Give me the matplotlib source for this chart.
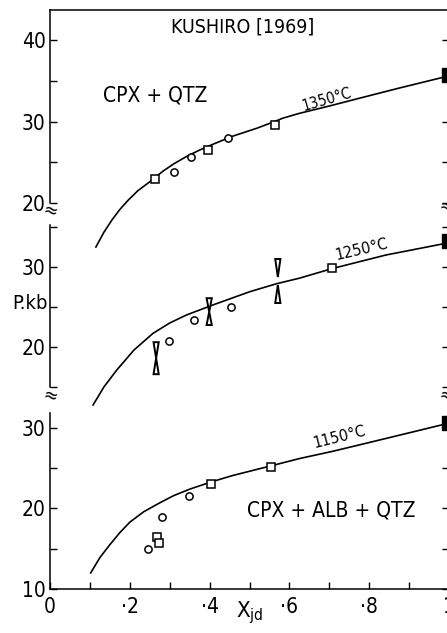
import matplotlib
matplotlib.use("Agg")
import matplotlib.pyplot as plt
from matplotlib.ticker import FixedLocator, MultipleLocator

plt.rcParams["font.family"] = ["DejaVu Sans"]
plt.rcParams["font.stretch"] = "condensed"

# ---- 1350 C panel (CPX + QTZ)
top_curve_x = [0.115, 0.135, 0.155, 0.175, 0.195, 0.22, 0.25, 0.283, 0.31, 0.342,
               0.375, 0.408, 0.458, 0.52, 0.563, 0.583, 0.625, 0.70, 0.775, 0.875, 0.975, 1.0]
top_curve_y = [14.6, 16.4, 17.9, 19.2, 20.3, 21.5, 22.6, 23.9, 24.8, 25.7,
               26.5, 27.2, 28.2, 29.2, 30.0, 30.4, 31.0, 31.9, 32.85, 34.1, 35.3, 35.6]
top_sq_x = [0.2625, 0.396, 0.563]
top_sq_y = [22.9, 26.5, 29.6]
top_ci_x = [0.311, 0.354, 0.446]
top_ci_y = [23.8, 25.6, 28.0]
top_end_y = 35.7

# ---- 1250 C panel
mid_curve_x = [0.108, 0.135, 0.167, 0.21, 0.258, 0.30, 0.342, 0.408, 0.5, 0.567,
               0.625, 0.707, 0.842, 0.992, 1.0]
mid_curve_y = [12.75, 15.0, 17.1, 19.6, 21.7, 23.0, 24.0, 25.25, 26.9, 27.9,
               28.6, 29.8, 31.5, 32.96, 33.1]
mid_sq_x = [0.707]
mid_sq_y = [29.85]
mid_ci_x = [0.298, 0.361, 0.454]
mid_ci_y = [20.8, 23.4, 25.0]
mid_end_y = 33.2
# pressure brackets (hourglass symbols)
br_x = [0.266, 0.399, 0.571]
br_top = [20.6, 26.1, 31.0]
br_top_tip = [18.6, 24.4, 28.75]
br_bot_tip = [18.6, 24.4, 27.75]
br_bot = [16.6, 22.75, 25.5]

# ---- 1150 C panel (CPX + ALB + QTZ)
bot_curve_x = [0.102, 0.125, 0.15, 0.175, 0.2, 0.235, 0.275, 0.31, 0.35, 0.404,
               0.458, 0.554, 0.625, 0.708, 0.792, 0.9, 0.983, 1.0]
bot_curve_y = [12.0, 13.9, 15.5, 17.0, 18.3, 19.6, 20.7, 21.6, 22.4, 23.3,
               24.1, 25.3, 26.2, 27.1, 28.1, 29.4, 30.4, 30.6]
bot_sq_x = [0.404, 0.554, 0.268, 0.272]
bot_sq_y = [23.0, 25.2, 16.4, 15.75]
bot_ci_x = [0.246, 0.281, 0.348]
bot_ci_y = [15.0, 18.9, 21.55]
bot_end_y = 30.65

x_ticks = [0, 0.2, 0.4, 0.6, 0.8, 1.0]
x_tick_labels = ["0", "·2", "·4", "·6", "·8", "1"]

W, H = 447, 633
fig = plt.figure(figsize=(W / 100, H / 100), dpi=100)


def px_axes(left, right, top, bottom):
    return fig.add_axes([left / W, 1 - bottom / H, (right - left) / W, (bottom - top) / H])


ax_top = px_axes(50, 449, 9.85, 203)
ax_mid = px_axes(50, 449, 225, 387)
ax_bot = px_axes(50, 449, 412.7, 589)

ax_top.set_ylim(20, 43.7)
ax_mid.set_ylim(15, 35.25)
ax_bot.set_ylim(10, 31.9)

for ax in (ax_top, ax_mid, ax_bot):
    ax.set_xlim(0, 1)
    ax.patch.set_alpha(0)
    for s in ax.spines.values():
        s.set_linewidth(1.1)
    ax.tick_params(axis="both", which="both", direction="in", length=5, width=1,
                   labelsize=15, pad=3, right=True)
    ax.yaxis.set_minor_locator(MultipleLocator(5))

ax_top.spines["bottom"].set_visible(False)
ax_mid.spines["bottom"].set_visible(False)
ax_mid.spines["top"].set_visible(False)
ax_bot.spines["top"].set_visible(False)
ax_top.set_xticks([])
ax_mid.set_xticks([])

ax_top.yaxis.set_major_locator(FixedLocator([20, 30, 40]))
ax_mid.yaxis.set_major_locator(FixedLocator([20, 30]))
ax_bot.yaxis.set_major_locator(FixedLocator([10, 20, 30]))

ax_bot.set_xticks(x_ticks)
ax_bot.set_xticklabels(x_tick_labels)
ax_bot.xaxis.set_minor_locator(MultipleLocator(0.1))
ax_bot.tick_params(axis="x", pad=6)

line_kw = dict(color="black", lw=1.2, clip_on=False, zorder=2)
sq_kw = dict(ls="none", marker="s", ms=5.2, mfc="white", mec="black", mew=1.1, clip_on=False, zorder=3)
ci_kw = dict(ls="none", marker="o", ms=5.2, mfc="white", mec="black", mew=1.1, clip_on=False, zorder=3)
end_kw = dict(ls="none", marker="s", ms=9.5, color="black", clip_on=False, zorder=3)

ax_top.plot(top_curve_x, top_curve_y, **line_kw)
ax_top.plot(top_sq_x, top_sq_y, **sq_kw)
ax_top.plot(top_ci_x, top_ci_y, **ci_kw)
ax_top.plot([1.0], [top_end_y], **end_kw)

ax_mid.plot(mid_curve_x, mid_curve_y, **line_kw)
ax_mid.plot(mid_sq_x, mid_sq_y, **sq_kw)
ax_mid.plot(mid_ci_x, mid_ci_y, **ci_kw)
ax_mid.plot([1.0], [mid_end_y], **end_kw)
hw = 0.0065
for x, t, tt, bt, b in zip(br_x, br_top, br_top_tip, br_bot_tip, br_bot):
    ax_mid.fill([x - hw, x + hw, x], [t, t, tt], fc="white", ec="black", lw=1.4, zorder=4)
    ax_mid.fill([x - hw, x + hw, x], [b, b, bt], fc="white", ec="black", lw=1.4, zorder=4)

ax_bot.plot(bot_curve_x, bot_curve_y, **line_kw)
ax_bot.plot(bot_sq_x, bot_sq_y, **sq_kw)
ax_bot.plot(bot_ci_x, bot_ci_y, **ci_kw)
ax_bot.plot([1.0], [bot_end_y], **end_kw)

# annotations
ax_top.text(0.4825, 41.6, "KUSHIRO [1969]", ha="center", va="center", fontsize=14)
ax_top.text(0.2625, 33.25, "CPX + QTZ", ha="center", va="center", fontsize=15)
ax_top.text(0.6925, 32.7, "1350°C", ha="center", va="center", fontsize=11, rotation=16)
ax_mid.text(0.78, 32.2, "1250°C", ha="center", va="center", fontsize=11.5, rotation=13)
ax_bot.text(0.725, 28.9, "1150°C", ha="center", va="center", fontsize=11.5, rotation=14)
ax_bot.text(0.705, 19.8, "CPX + ALB + QTZ", ha="center", va="center", fontsize=15)

ax_mid.text(-0.005, 25.4, "P.kb", ha="right", va="center", fontsize=14.5)
ax_bot.text(0.5, -0.16, "X$_\\mathregular{jd}$", transform=ax_bot.transAxes,
            ha="center", va="baseline", fontsize=16)

# axis break marks
for xp, yp in [(50, 211.5), (50, 396), (446, 207), (446, 396)]:
    fig.text(xp / W, 1 - yp / H, "≈", ha="center", va="center", fontsize=14, rotation=-15)

fig.savefig("out.png", dpi=100)
